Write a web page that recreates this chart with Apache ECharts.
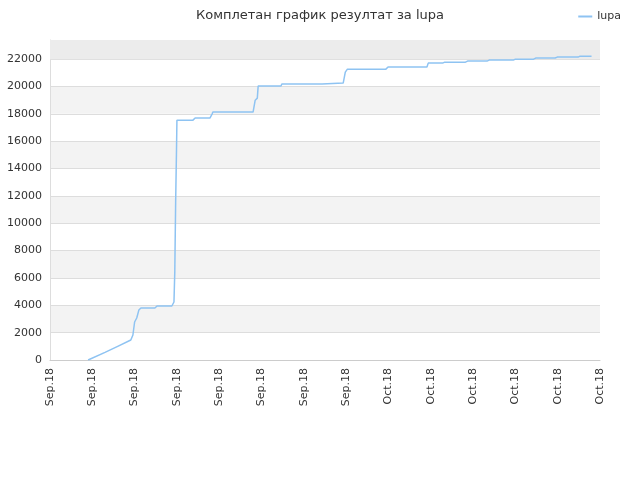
<!DOCTYPE html>
<html><head><meta charset="utf-8">
<script src="https://cdn.jsdelivr.net/npm/echarts@6/dist/echarts.min.js"></script>
<style>html,body{margin:0;padding:0}#c{width:640px;height:480px}</style>
</head><body><div id="c"></div>
<script>
const xLabels = ['Sep.18','Sep.18','Sep.18','Sep.18','Sep.18','Sep.18','Sep.18','Sep.18','Oct.18','Oct.18','Oct.18','Oct.18','Oct.18','Oct.18'];
const xs = [0.9,1.3,1.6,1.91,1.96,2.0,2.05,2.1,2.15,2.48,2.53,2.88,2.93,2.95,2.97,2.99,3.0,3.38,3.43,3.78,3.83,3.85,4.8,4.85,4.9,4.92,5.46,5.48,6.43,6.45,6.93,6.95,6.98,7.03,7.94,7.99,8.91,8.94,9.28,9.33,9.82,9.87,10.33,10.38,10.95,11.0,11.43,11.48,11.94,11.99,12.48,12.53,12.8];
const ys = [0,560,1000,1460,1830,2780,3070,3650,3800,3800,3950,3950,4240,6500,11550,15350,17540,17540,17690,17690,17980,18130,18130,19000,19150,20030,20030,20180,20180,20250,20250,20320,21050,21270,21270,21420,21420,21710,21710,21780,21780,21860,21860,21930,21930,22000,22000,22080,22080,22150,22150,22220,22220];
const data = xs.map((x,i)=>[x,ys[i]]);
const chart = echarts.init(document.getElementById('c'));
chart.setOption({
  animation:false,
  title:{text:'Комплетан график резултат за lupa',left:'center',top:4,textStyle:{fontSize:13,fontWeight:'normal',color:'#333',fontFamily:'DejaVu Sans'}},
  legend:{right:14,top:6,itemWidth:14,itemHeight:2,icon:'rect',textStyle:{fontSize:11,color:'#333',fontFamily:'DejaVu Sans'},data:['lupa']},
  grid:{left:50,right:40,top:40,bottom:120,containLabel:false},
  xAxis:{type:'value',min:0,max:13,interval:1,
    axisLine:{lineStyle:{color:'#ccc'}},axisTick:{show:false},splitLine:{show:false},
    axisLabel:{rotate:90,fontSize:11,color:'#333',fontFamily:'DejaVu Sans',formatter:v=>xLabels[Math.round(v)]}},
  yAxis:{type:'value',min:0,max:23400,interval:2000,
    axisLine:{show:true,lineStyle:{color:'#ddd'}},axisTick:{show:false},
    splitLine:{lineStyle:{color:'#ddd'}},
    splitArea:{show:true,areaStyle:{color:['#ffffff','#f3f3f3']}},
    axisLabel:{fontSize:11,color:'#333',fontFamily:'DejaVu Sans',formatter:v=>v>22000?'':v}},
  series:[{name:'lupa',type:'line',data:data,showSymbol:false,lineStyle:{color:'#8ec3f2',width:1.5},itemStyle:{color:'#8ec3f2'},
    markArea:{silent:true,itemStyle:{color:'#ececec'},data:[[{yAxis:22000},{yAxis:23400}]]}}]
});
</script></body></html>
